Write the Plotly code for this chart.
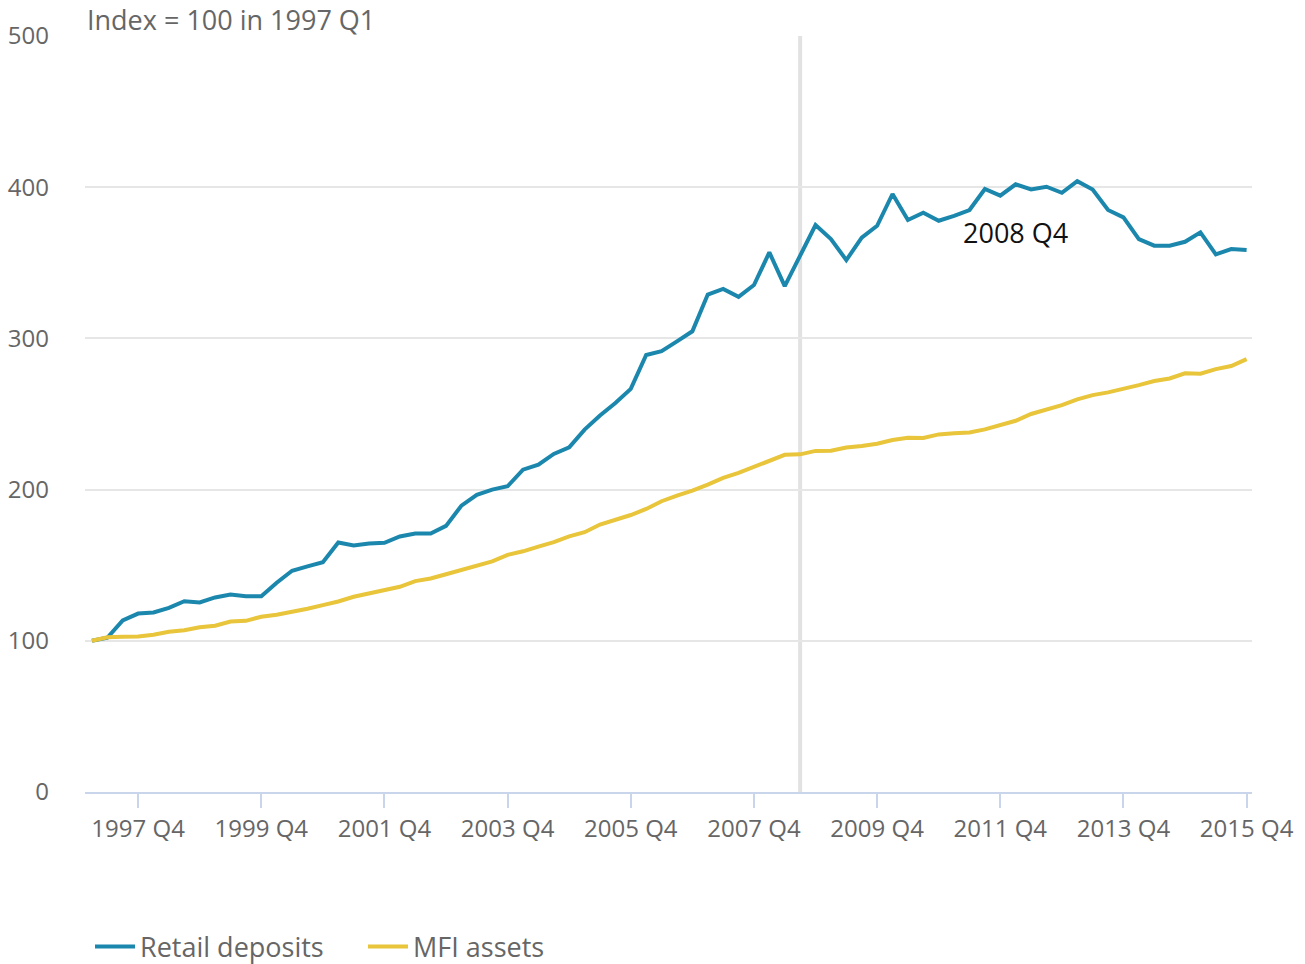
import plotly.graph_objects as go

quarters = [f"{y} Q{q}" for y in range(1997, 2016) for q in range(1, 5)]

retail_deposits = [
    100, 102, 113.5, 118, 118.7, 121.8, 126.2, 125.4, 128.7, 130.6,
    129.5, 129.5, 138.4, 146.3, 149.2, 152, 165, 163, 164.4, 164.8,
    169, 171, 171, 176, 189.4, 196.5, 200, 202.2, 213.2, 216.5,
    223.6, 228, 239.7, 249, 257.3, 266.6, 289, 291.5, 298, 304.7,
    329, 332.7, 327.5, 335.3, 356.9, 334.6, 354.7, 375, 365.7, 351.8,
    366.6, 374.5, 395.5, 378.3, 383.1, 377.8, 381.1, 384.9, 398.8, 394.4,
    401.9, 398.5, 400.3, 396.3, 404, 398.5, 384.9, 380, 365.7, 361.3,
    361.3, 363.9, 370.1, 355.6, 359.1, 358.4,
]

mfi_assets = [
    100, 102.3, 102.6, 102.9, 104, 106, 107, 109, 110, 112.8,
    113.2, 115.9, 117.2, 119, 121.2, 123.6, 126, 129.1, 131.3, 133.3,
    135.7, 139.5, 141.2, 144, 147, 150, 152.5, 156.8, 159.2, 162.3,
    165.2, 169.1, 171.8, 176.9, 179.9, 183.2, 187.2, 192.3, 196, 199.3,
    203.3, 207.7, 211, 214.8, 219.2, 223, 223.3, 225.6, 225.7, 227.9,
    228.8, 230.3, 232.8, 234.3, 234.1, 236.5, 237.2, 237.8, 239.8, 242.7,
    245.5, 250, 253, 255.9, 259.7, 262.5, 264.3, 266.5, 269.1, 271.8,
    273.5, 276.9, 276.6, 279.7, 281.7, 286.3,
]

tick_labels = [f"{y} Q4" for y in range(1997, 2016, 2)]
y_ticks = [0, 100, 200, 300, 400, 500]

marker_quarter = "2008 Q3"
annotation_text = "2008 Q4"
annotation_pos = ("2012 Q1", 370)

BLUE = "#1b87ad"
YELLOW = "#e8c53a"
GRAY_TEXT = "#666666"
FONT = "Open Sans"

fig = go.Figure()
fig.add_trace(go.Scatter(x=quarters, y=retail_deposits, mode="lines",
                         name="Retail deposits",
                         line=dict(color=BLUE, width=4)))
fig.add_trace(go.Scatter(x=quarters, y=mfi_assets, mode="lines",
                         name="MFI assets",
                         line=dict(color=YELLOW, width=4)))

fig.add_shape(type="line", xref="x", yref="paper",
              x0=quarters.index(marker_quarter), x1=quarters.index(marker_quarter),
              y0=0, y1=1, line=dict(color="#e2e2e2", width=4), layer="below")

fig.add_annotation(x=annotation_pos[0], y=annotation_pos[1], text=annotation_text,
                   showarrow=False, font=dict(family=FONT, size=27, color="#111111"))

fig.add_annotation(xref="paper", yref="paper", x=0, y=1.0212, xanchor="left",
                   yanchor="middle", text="Index = 100 in 1997 Q1",
                   showarrow=False,
                   font=dict(family=FONT, size=27, color=GRAY_TEXT))

fig.update_layout(
    width=1305, height=964,
    margin=dict(l=85, r=53, t=36, b=172, autoexpand=False),
    paper_bgcolor="white", plot_bgcolor="white",
    font=dict(family=FONT, size=24, color=GRAY_TEXT),
    showlegend=True,
    legend=dict(orientation="h", x=0.0043, xanchor="left", y=-0.205, yanchor="middle",
                font=dict(family=FONT, size=27, color=GRAY_TEXT),
                itemwidth=40, entrywidth=218, entrywidthmode="pixels",
                traceorder="normal"),
    xaxis=dict(type="category", range=[-0.45, 75.35], automargin=False,
               tickmode="array", tickvals=tick_labels, ticktext=tick_labels,
               showgrid=False, showline=True, linecolor="#c9d5ea", linewidth=2,
               ticks="outside", ticklen=14, tickwidth=2, tickcolor="#c9d5ea",
               tickfont=dict(family=FONT, size=24, color=GRAY_TEXT), tickangle=0),
    yaxis=dict(range=[0, 500], tickvals=y_ticks, showgrid=True, automargin=False,
               gridcolor="#e6e6e6", gridwidth=2, zeroline=False, showline=False,
               ticks="", ticklabelstandoff=35,
               tickfont=dict(family=FONT, size=24, color=GRAY_TEXT)),
)

fig.write_html("out.html", config={"displayModeBar": False},
               post_script="document.body.style.margin='0px';document.body.style.overflow='hidden';")
